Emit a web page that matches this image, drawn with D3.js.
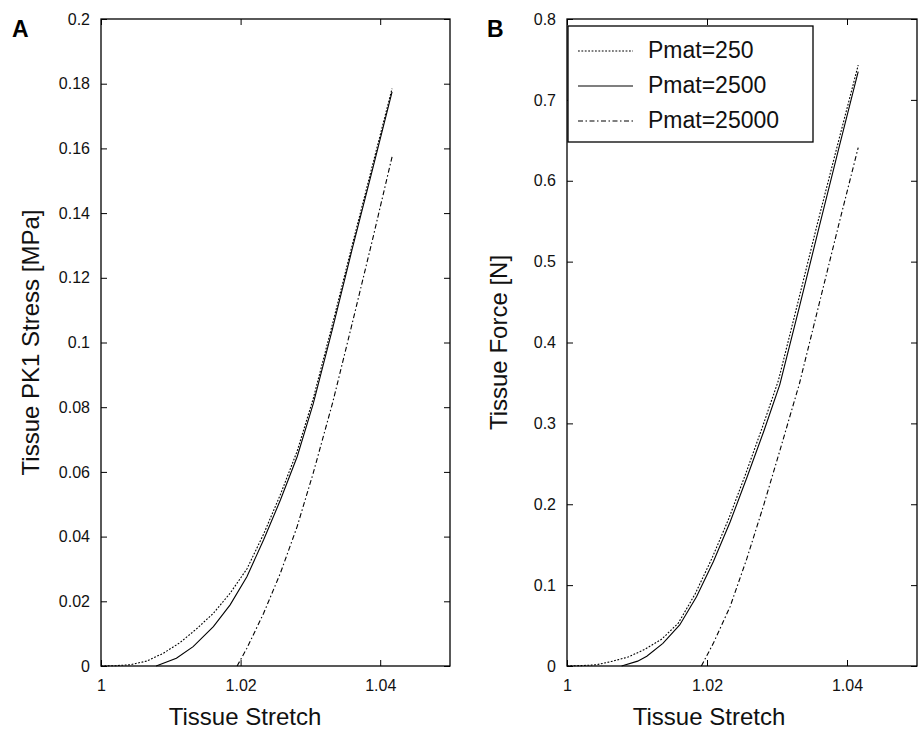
<!DOCTYPE html>
<html>
<head>
<meta charset="utf-8">
<script src="https://cdn.jsdelivr.net/npm/d3@7"></script>
<style>
body { margin: 0; background: #fff; }
svg { display: block; font-family: "Liberation Sans", Arial, sans-serif; }
</style>
</head>
<body>
<svg id="fig"></svg>
<script>
// values: [stretch, value]
const series_names = ["Pmat=250", "Pmat=2500", "Pmat=25000"];

const stress_pmat250 = [[1.0,0],[1.0021,0.0001],[1.0042,0.0004],[1.0065,0.0015],[1.0089,0.0039],[1.0113,0.0072],[1.0137,0.0115],[1.0161,0.0163],[1.0185,0.0225],[1.0209,0.0300],[1.0233,0.0408],[1.0257,0.0530],[1.0281,0.0664],[1.0304,0.0826],[1.0332,0.1060],[1.036,0.1302],[1.0389,0.1548],[1.0417,0.1785]];
const stress_pmat2500 = [[1.0079,0],[1.0108,0.0024],[1.0132,0.0060],[1.0161,0.0122],[1.0185,0.0189],[1.0209,0.0276],[1.0233,0.0390],[1.0257,0.0513],[1.0281,0.0647],[1.0304,0.0810],[1.0332,0.1045],[1.036,0.1290],[1.0389,0.1535],[1.0417,0.1775]];
const stress_pmat25000 = [[1.0195,0],[1.0209,0.0055],[1.0233,0.0163],[1.0257,0.0287],[1.0281,0.0431],[1.0304,0.0596],[1.0332,0.0815],[1.036,0.1060],[1.0389,0.1318],[1.0417,0.1574]];

const force_pmat250 = [[1.0,0],[1.0021,0.0005],[1.0042,0.0015],[1.0063,0.0055],[1.0087,0.0110],[1.0111,0.0205],[1.0135,0.0330],[1.0159,0.0530],[1.0183,0.0890],[1.0207,0.1330],[1.0231,0.1820],[1.0255,0.2370],[1.0279,0.2950],[1.0302,0.3530],[1.0330,0.4500],[1.0358,0.5480],[1.0387,0.6460],[1.0416,0.7430]];
const force_pmat2500 = [[1.0078,0],[1.0101,0.0060],[1.0114,0.0120],[1.0137,0.0280],[1.0161,0.0507],[1.0185,0.0857],[1.0209,0.1290],[1.0233,0.1780],[1.0257,0.2330],[1.0281,0.2900],[1.0304,0.3480],[1.0332,0.4440],[1.036,0.5420],[1.0388,0.6390],[1.0416,0.7350]];
const force_pmat25000 = [[1.0192,0],[1.0209,0.0280],[1.0233,0.0734],[1.0257,0.1330],[1.0281,0.1990],[1.0304,0.2660],[1.0332,0.3490],[1.036,0.4470],[1.0388,0.5450],[1.0416,0.6410]];

const x_ticks = [1, 1.02, 1.04];
const x_tick_labels = ["1", "1.02", "1.04"];
const stress_ticks = [0, 0.02, 0.04, 0.06, 0.08, 0.1, 0.12, 0.14, 0.16, 0.18, 0.2];
const stress_tick_labels = ["0", "0.02", "0.04", "0.06", "0.08", "0.1", "0.12", "0.14", "0.16", "0.18", "0.2"];
const force_ticks = [0, 0.1, 0.2, 0.3, 0.4, 0.5, 0.6, 0.7, 0.8];
const force_tick_labels = ["0", "0.1", "0.2", "0.3", "0.4", "0.5", "0.6", "0.7", "0.8"];

const dashes = ["1.8,1.6", null, "5,2.5,1.5,2.5"];

class LinePanel {

    constructor( config, data ) {
        this.config = {
            parent: config.parent,
            left: config.left,
            top: config.top,
            width: config.width,
            height: config.height,
            ydomain: config.ydomain,
            yticks: config.yticks,
            yticklabels: config.yticklabels,
            ylabel: config.ylabel,
            ylabel_x: config.ylabel_x,
            xlabel_x: config.xlabel_x,
            letter: config.letter,
            letter_x: config.letter_x,
            legend: config.legend || false
        }
        this.data = data;
        this.init();
    }

    init() {
        let self = this;
        const c = self.config;

        self.chart = c.parent.append('g')
            .attr('transform', `translate(${c.left}, ${c.top})`);

        self.xscale = d3.scaleLinear()
            .domain([1, 1.05])
            .range([0, c.width]);

        self.yscale = d3.scaleLinear()
            .domain(c.ydomain)
            .range([c.height, 0]);

        self.line = d3.line()
            .x(d => self.xscale(d[0]))
            .y(d => self.yscale(d[1]));

        // inward ticks on all four sides, like a matlab box
        self.xaxis = d3.axisBottom(self.xscale)
            .tickValues(x_ticks)
            .tickFormat((d, i) => x_tick_labels[i])
            .tickSize(-6).tickPadding(14);
        self.xaxis_top = d3.axisTop(self.xscale)
            .tickValues(x_ticks).tickFormat('').tickSize(-6);
        self.yaxis = d3.axisLeft(self.yscale)
            .tickValues(c.yticks)
            .tickFormat((d, i) => c.yticklabels[i])
            .tickSize(-6).tickPadding(11);
        self.yaxis_right = d3.axisRight(self.yscale)
            .tickValues(c.yticks).tickFormat('').tickSize(-6);

        self.xaxis_group = self.chart.append('g')
            .attr('transform', `translate(0, ${c.height})`);
        self.xaxis_top_group = self.chart.append('g');
        self.yaxis_group = self.chart.append('g');
        self.yaxis_right_group = self.chart.append('g')
            .attr('transform', `translate(${c.width}, 0)`);

        self.chart.append('text')
            .text('Tissue Stretch')
            .attr('x', c.xlabel_x - c.left)
            .attr('y', 725 - c.top)
            .attr('text-anchor', 'middle')
            .attr('font-size', '24px')
            .attr('fill', '#111');

        self.chart.append('text')
            .text(c.ylabel)
            .attr('transform', `translate(${c.ylabel_x - c.left}, ${c.height/2}) rotate(-90)`)
            .attr('dy', '0.36em')
            .attr('text-anchor', 'middle')
            .attr('font-size', '24px')
            .attr('fill', '#111');

        self.chart.append('text')
            .text(c.letter)
            .attr('x', c.letter_x - c.left)
            .attr('y', 37 - c.top)
            .attr('font-size', '23px')
            .attr('font-weight', 'bold')
            .attr('fill', '#000');
    }

    render() {
        let self = this;
        const c = self.config;

        [self.xaxis_group.call(self.xaxis),
         self.xaxis_top_group.call(self.xaxis_top),
         self.yaxis_group.call(self.yaxis),
         self.yaxis_right_group.call(self.yaxis_right)].forEach(g => {
            g.select('.domain').remove();
            g.selectAll('line').attr('stroke', '#000').attr('stroke-width', 1);
            g.selectAll('text').attr('font-size', '16px')
                .attr('font-family', '"Liberation Sans", Arial, sans-serif')
                .attr('fill', '#111');
        });

        self.chart.selectAll('path.curve')
            .data(self.data)
            .join('path')
            .attr('class', 'curve')
            .attr('d', d => self.line(d))
            .attr('fill', 'none')
            .attr('stroke', '#000')
            .attr('stroke-width', 1.1)
            .attr('stroke-dasharray', (d, i) => dashes[i]);

        self.chart.append('rect')
            .attr('x', 0).attr('y', 0)
            .attr('width', c.width).attr('height', c.height)
            .attr('fill', 'none')
            .attr('stroke', '#000')
            .attr('stroke-width', 1.3);

        if (c.legend) {
            const lg = self.chart.append('g')
                .attr('transform', 'translate(1, 7)');
            lg.append('rect')
                .attr('width', 245).attr('height', 116)
                .attr('fill', '#fff')
                .attr('stroke', '#000')
                .attr('stroke-width', 1.3);
            series_names.forEach((name, i) => {
                const y = 25 + i * 35;
                lg.append('line')
                    .attr('x1', 10).attr('x2', 65)
                    .attr('y1', y).attr('y2', y)
                    .attr('stroke', '#000')
                    .attr('stroke-width', 1.1)
                    .attr('stroke-dasharray', dashes[i]);
                lg.append('text')
                    .text(name)
                    .attr('x', 80).attr('y', y + 7)
                    .attr('font-size', '23px')
                    .attr('fill', '#111');
            });
        }
    }
}

const svg = d3.select('#fig')
    .attr('width', 922)
    .attr('height', 729);

const panelA = new LinePanel({
    parent: svg, left: 101, top: 19, width: 349, height: 647,
    ydomain: [0, 0.2], yticks: stress_ticks, yticklabels: stress_tick_labels,
    ylabel: 'Tissue PK1 Stress [MPa]', ylabel_x: 30, xlabel_x: 245,
    letter: 'A', letter_x: 12
}, [stress_pmat250, stress_pmat2500, stress_pmat25000]);
panelA.render();

const panelB = new LinePanel({
    parent: svg, left: 567, top: 19, width: 350, height: 647,
    ydomain: [0, 0.8], yticks: force_ticks, yticklabels: force_tick_labels,
    ylabel: 'Tissue Force [N]', ylabel_x: 498, xlabel_x: 709,
    letter: 'B', letter_x: 487, legend: true
}, [force_pmat250, force_pmat2500, force_pmat25000]);
panelB.render();
</script>
</body>
</html>
